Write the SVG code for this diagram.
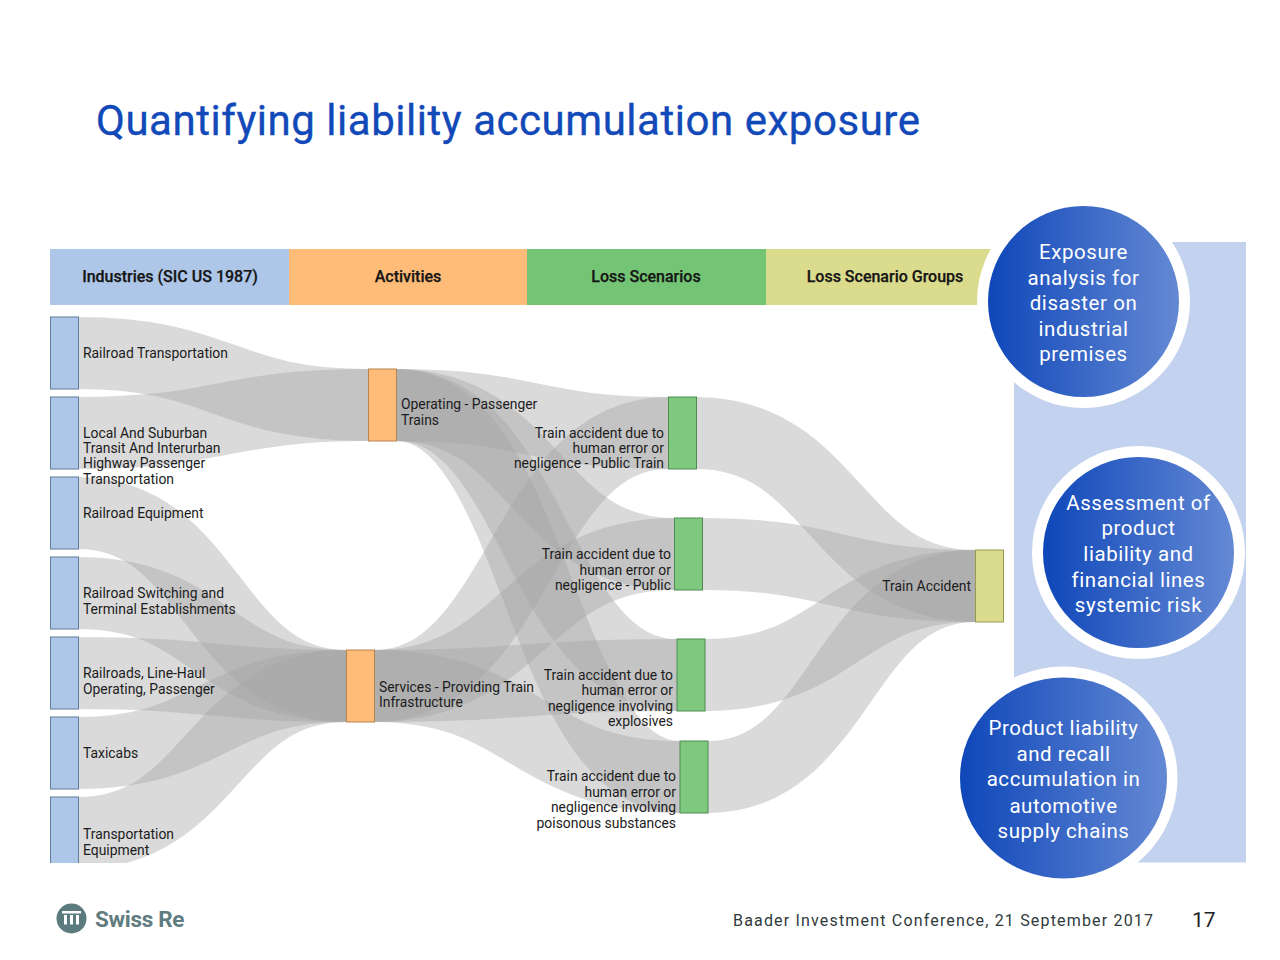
<svg xmlns="http://www.w3.org/2000/svg" width="1280" height="960" viewBox="0 0 1280 960">
<defs>
<linearGradient id="ball" x1="0" y1="0" x2="1" y2="0"><stop offset="0" stop-color="#0f47b9"/><stop offset="1" stop-color="#6489d4"/></linearGradient>
<clipPath id="cut"><rect x="0" y="0" width="1280" height="863"/></clipPath>
</defs>
<style>
text{font-family:Roboto,"Liberation Sans",sans-serif}
.l{font-size:13.9px;fill:#1c1c1c}
.r{text-anchor:end}
.h{font-size:16px;font-weight:500;fill:#151515;text-anchor:middle;stroke:#151515;stroke-width:.25px}
.c{font-size:20.5px;fill:#fff;text-anchor:middle;letter-spacing:.55px}
.lk{fill:none;stroke:#a4a4a4;stroke-opacity:.41;stroke-width:72}
.b{fill:#aec7e8;stroke:#5f7d9c}
.o{fill:#ffbb78;stroke:#b5834f}
.g{fill:#7fc97f;stroke:#4f8a52}
.y{fill:#dbdb8d;stroke:#98984f}
</style>
<rect width="1280" height="960" fill="#fff"/>
<text x="96" y="135" font-size="42" fill="#1249b8" stroke="#1249b8" stroke-width=".35" textLength="824" lengthAdjust="spacing">Quantifying liability accumulation exposure</text>
<g id="headers">
<rect x="50" y="249" width="239" height="56" fill="#aec7e8"/><text class="h" x="170" y="282">Industries (SIC US 1987)</text>
<rect x="289" y="249" width="238" height="56" fill="#ffbb78"/><text class="h" x="408" y="282">Activities</text>
<rect x="527" y="249" width="239" height="56" fill="#74c476"/><text class="h" x="646" y="282">Loss Scenarios</text>
<rect x="766" y="249" width="240" height="56" fill="#dbdb8d"/><text class="h" x="885" y="282">Loss Scenario Groups</text>
</g>
<rect id="panel" x="1014" y="242" width="232" height="620.500" fill="#c3d2ee"/>
<g id="connectors" clip-path="url(#cut)">
<path class="lk" d="M78 353C223 353 223 405 368 405"/>
<path class="lk" d="M78 433C223 433 223 405 368 405"/>
<path class="lk" d="M78 513C212 513 212 686 346 686"/>
<path class="lk" d="M78 593C212 593 212 686 346 686"/>
<path class="lk" d="M78 673C212 673 212 686 346 686"/>
<path class="lk" d="M78 753C212 753 212 686 346 686"/>
<path class="lk" d="M78 833C212 833 212 686 346 686"/>
<path class="lk" d="M396 405C532 405 532 433 668 433"/>
<path class="lk" d="M396 405C535 405 535 554 674 554"/>
<path class="lk" d="M396 405C536 405 536 675 677 675"/>
<path class="lk" d="M396 405C538 405 538 777 680 777"/>
<path class="lk" d="M374 686C521 686 521 433 668 433"/>
<path class="lk" d="M374 686C524 686 524 554 674 554"/>
<path class="lk" d="M374 686C525 686 525 675 677 675"/>
<path class="lk" d="M374 686C527 686 527 777 680 777"/>
<path class="lk" d="M696 433C835 433 835 586 975 586"/>
<path class="lk" d="M702 554C838 554 838 586 975 586"/>
<path class="lk" d="M705 675C840 675 840 586 975 586"/>
<path class="lk" d="M708 777C841 777 841 586 975 586"/>
</g>
<g id="n-railroad-transportation"><rect class="b" x="50.500" y="317" width="28" height="72"/><text class="l" x="83" y="358">Railroad Transportation</text></g>
<g id="n-local-suburban"><rect class="b" x="50.500" y="397" width="28" height="72"/><text class="l" x="83" y="438">Local And Suburban</text><text class="l" x="83" y="453">Transit And Interurban</text><text class="l" x="83" y="468">Highway Passenger</text><text class="l" x="83" y="484">Transportation</text></g>
<g id="n-railroad-equipment"><rect class="b" x="50.500" y="477" width="28" height="72"/><text class="l" x="83" y="518">Railroad Equipment</text></g>
<g id="n-switching"><rect class="b" x="50.500" y="557" width="28" height="72"/><text class="l" x="83" y="598">Railroad Switching and</text><text class="l" x="83" y="614">Terminal Establishments</text></g>
<g id="n-line-haul"><rect class="b" x="50.500" y="637" width="28" height="72"/><text class="l" x="83" y="678">Railroads, Line-Haul</text><text class="l" x="83" y="694">Operating, Passenger</text></g>
<g id="n-taxicabs"><rect class="b" x="50.500" y="717" width="28" height="72"/><text class="l" x="83" y="758">Taxicabs</text></g>
<g id="n-transport-equipment"><rect class="b" x="50.500" y="797" width="28" height="72" clip-path="url(#cut)"/><text class="l" x="83" y="839">Transportation</text><text class="l" x="83" y="855">Equipment</text></g>
<g id="n-operating"><rect class="o" x="368.500" y="369" width="28" height="72"/><text class="l" x="401" y="409">Operating - Passenger</text><text class="l" x="401" y="425">Trains</text></g>
<g id="n-services"><rect class="o" x="346.500" y="650" width="28" height="72"/><text class="l" x="379" y="692">Services - Providing Train</text><text class="l" x="379" y="707">Infrastructure</text></g>
<g id="n-s1"><rect class="g" x="668.500" y="397" width="28" height="72"/><text class="l r" x="664" y="438">Train accident due to</text><text class="l r" x="664" y="453">human error or</text><text class="l r" x="664" y="468">negligence - Public Train</text></g>
<g id="n-s2"><rect class="g" x="674.500" y="518" width="28" height="72"/><text class="l r" x="671" y="559">Train accident due to</text><text class="l r" x="671" y="575">human error or</text><text class="l r" x="671" y="590">negligence - Public</text></g>
<g id="n-s3"><rect class="g" x="677" y="639" width="28" height="72"/><text class="l r" x="673" y="680">Train accident due to</text><text class="l r" x="673" y="695">human error or</text><text class="l r" x="673" y="711">negligence involving</text><text class="l r" x="673" y="726">explosives</text></g>
<g id="n-s4"><rect class="g" x="680" y="741" width="28" height="72"/><text class="l r" x="676" y="781">Train accident due to</text><text class="l r" x="676" y="797">human error or</text><text class="l r" x="676" y="812">negligence involving</text><text class="l r" x="676" y="828">poisonous substances</text></g>
<g id="n-train-accident"><rect class="y" x="975.500" y="550" width="28" height="72"/><text class="l r" x="971" y="591">Train Accident</text></g>
<g id="circle-exposure"><circle cx="1083.500" cy="301.500" r="106.500" fill="#fff"/><circle cx="1083.500" cy="301.500" r="95.500" fill="url(#ball)"/>
<text class="c" x="1083.500" y="259">Exposure</text><text class="c" x="1083.500" y="285">analysis for</text><text class="c" x="1083.500" y="310">disaster on</text><text class="c" x="1083.500" y="336">industrial</text><text class="c" x="1083.500" y="361">premises</text></g>
<g id="circle-assessment"><circle cx="1138.500" cy="552.500" r="106.500" fill="#fff"/><circle cx="1138.500" cy="552.500" r="95.500" fill="url(#ball)"/>
<text class="c" x="1138.500" y="510">Assessment of</text><text class="c" x="1138.500" y="535">product</text><text class="c" x="1138.500" y="561">liability and</text><text class="c" x="1138.500" y="587">financial lines</text><text class="c" x="1138.500" y="612">systemic risk</text></g>
<g id="circle-product"><ellipse cx="1063.500" cy="778" rx="114" ry="111.500" fill="#fff"/><ellipse cx="1063.500" cy="778" rx="103.500" ry="100.500" fill="url(#ball)"/>
<text class="c" x="1063.500" y="735">Product liability</text><text class="c" x="1063.500" y="761">and recall</text><text class="c" x="1063.500" y="786">accumulation in</text><text class="c" x="1063.500" y="813">automotive</text><text class="c" x="1063.500" y="838">supply chains</text></g>
<g id="logo"><circle cx="71.500" cy="918.500" r="15" fill="#5b7b7e"/><path d="M62 911h19v2.500h-19zM64 915h3v9.500h-3zM70 915h3v9.500h-3zM76 915h3v9.500h-3z" fill="#fff"/><text x="95" y="927" font-size="22.500" font-weight="700" fill="#5f7c7f" letter-spacing="-.3">Swiss Re</text></g>
<text x="733" y="926" font-size="16" fill="#2f3a3c" textLength="420" lengthAdjust="spacing">Baader Investment Conference, 21 September 2017</text>
<text x="1192" y="927" font-size="21" fill="#222">17</text>
</svg>
